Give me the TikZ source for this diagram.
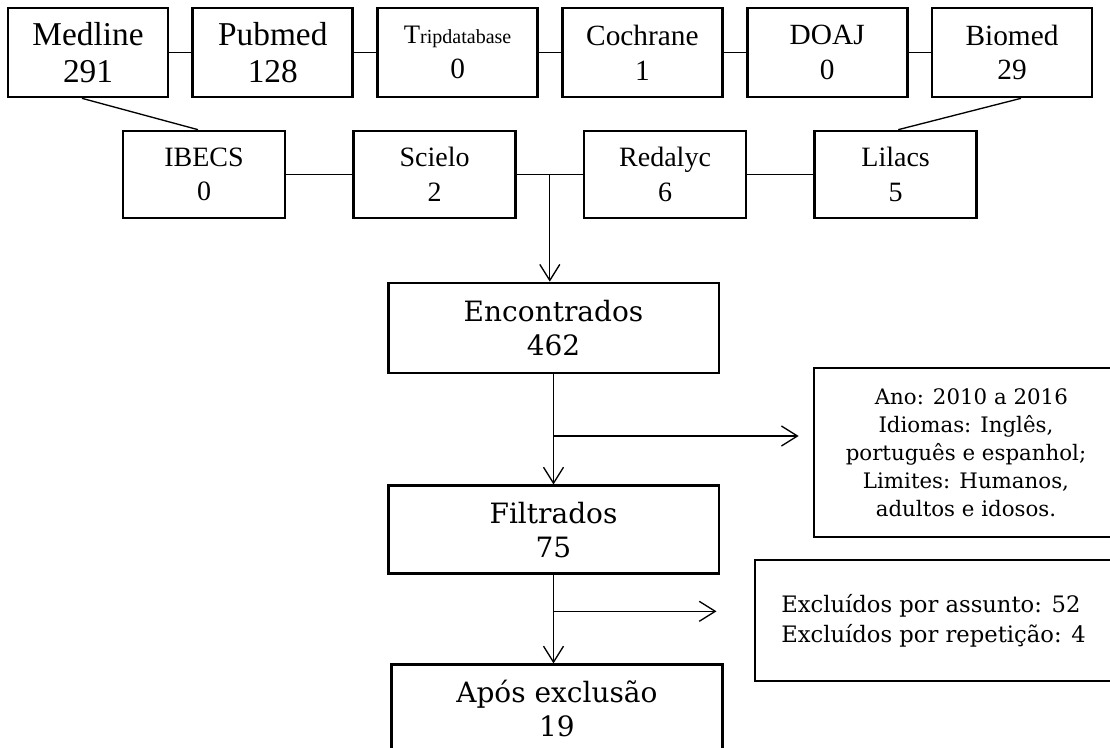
\documentclass[tikz,border=0pt]{standalone}
\usepackage{fontspec}
\setmainfont{Liberation Serif}
\newfontfamily\bookfont{DejaVu Serif}
\usetikzlibrary{arrows.meta,positioning,calc}

\begin{document}
\begin{tikzpicture}[
    x=0.75pt, y=-0.75pt,
    node distance=16.6pt,
    base/.style={rectangle, draw=black, line width=2pt, align=center, inner sep=0pt},
    source/.style={base, minimum width=120pt, minimum height=66.75pt,
        font=\fontsize{22}{26}\selectfont},
    source2/.style={base, minimum width=121.5pt, minimum height=65.25pt,
        font=\fontsize{21}{26}\selectfont},
    stage/.style={base, minimum width=248pt, minimum height=66pt,
        font=\bookfont\fontsize{21}{25.5}\selectfont},
    note/.style={base, font=\bookfont\fontsize{16}{21}\selectfont},
    link/.style={line width=1pt},
    arrow/.style={link, -{Straight Barb[length=12pt,width=15pt]}}
]
\useasboundingbox (0,0) rectangle (1110,748);
\clip (0,0) rectangle (1110,748);

% Databases, first row
\node[source, font=\fontsize{25}{28}\selectfont] (medline) at (88,52.5) {Medline\\291};
\node[source, right=of medline, font=\fontsize{25}{28}\selectfont] (pubmed) {Pubmed\\128};
\node[source, right=of pubmed] (trip)
{{\fontsize{20}{20}\selectfont T}{\fontsize{15}{18}\selectfont ripdatabase}\\0};
\node[source, right=of trip] (cochrane) {Cochrane\\1};
\node[source, right=of cochrane] (doaj) {DOAJ\\0};
\node[source, right=of doaj] (biomed) {Biomed\\29};

% Databases, second row
\node[source2] (ibecs) at (204,174.5) {IBECS\\0};
\node[source2, right=49.4pt of ibecs] (scielo) {Scielo\\2};
\node[source2, right=49.4pt of scielo] (redalyc) {Redalyc\\6};
\node[source2, right=49.4pt of redalyc] (lilacs) {Lilacs\\5};

% Stages
\node[stage, minimum height=67.5pt] (encontrados) at (553.5,328) {Encontrados\\462};
\node[stage, below=82.6pt of encontrados] (filtrados) {Filtrados\\75};
\node[stage, below=66.2pt of filtrados, xshift=2.6pt] (apos) {Após exclusão\\19};

% Side notes
\node[note, minimum width=228pt, minimum height=126.75pt] (criterios) at (966,452.5)
{\hspace*{8pt}Ano: 2010 a 2016\\Idiomas: Inglês,\\português e espanhol;\\Limites: Humanos,\\adultos e idosos.};
\node[note, minimum width=268pt, minimum height=90.75pt, align=left,
    font=\bookfont\fontsize{17}{22.5}\selectfont] (excluidos) at (933.5,620.5)
{Excluídos por assunto: 52\\Excluídos por repetição: 4};

% Links between databases
\draw[link] (medline) -- (pubmed);
\draw[link] (pubmed) -- (trip);
\draw[link] (trip) -- (cochrane);
\draw[link] (cochrane) -- (doaj);
\draw[link] (doaj) -- (biomed);
\draw[link] (ibecs) -- (scielo);
\draw[link] (scielo) -- (redalyc);
\draw[link] (redalyc) -- (lilacs);
\draw[link] ([xshift=-4.5pt]medline.south) -- ([xshift=-4.5pt]ibecs.north);
\draw[link] ([xshift=6.75pt]biomed.south) -- ([xshift=2pt]lilacs.north);

% Arrows
\coordinate (join) at ($(scielo.east)!0.5!(redalyc.west)$);
\draw[arrow] (join) -- (join |- encontrados.north);
\draw[arrow] (encontrados) -- (filtrados);
\coordinate (split1) at ($(encontrados.south)!0.56!(filtrados.north)$);
\draw[arrow, shorten >=10.5pt] (split1) -- (split1 -| criterios.west);
\draw[arrow] (filtrados.south) -- (filtrados.south |- apos.north);
\coordinate (split2) at ($(filtrados.south)!0.41!(filtrados.south |- apos.north)$);
\draw[arrow, shorten >=27.75pt] (split2) -- (split2 -| excluidos.west);

\end{tikzpicture}
\end{document}
